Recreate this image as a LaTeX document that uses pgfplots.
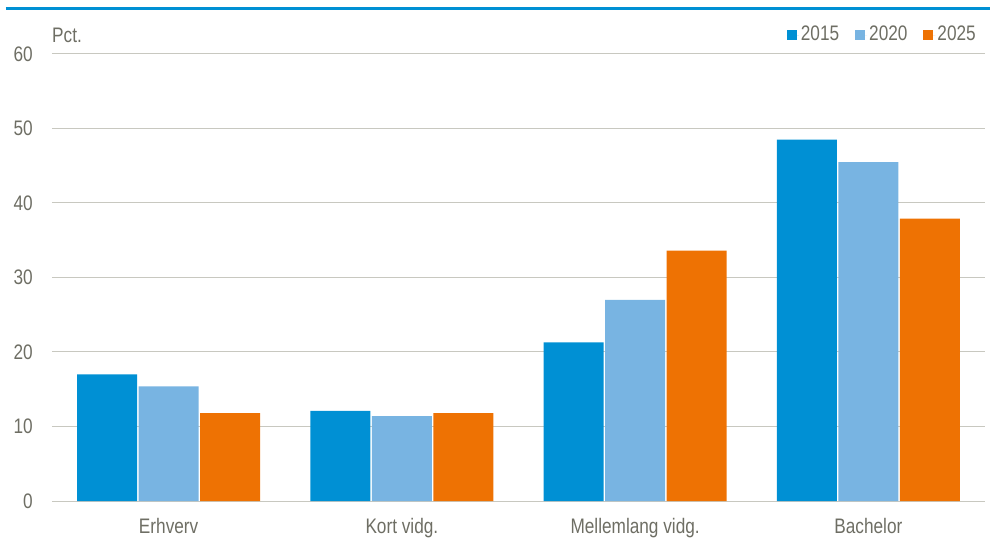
\documentclass[border=0pt]{standalone}
\usepackage{pgfplots}
\pgfplotsset{compat=1.18}
\usepackage{fontspec}
\setmainfont{Liberation Sans}[FakeStretch=0.82]
\definecolor{cA}{RGB}{0,144,212}
\definecolor{cB}{RGB}{120,180,226}
\definecolor{cC}{RGB}{238,114,3}
\definecolor{txt}{RGB}{110,110,100}
\definecolor{grd}{RGB}{200,200,192}
\begin{document}
\fontsize{21bp}{25bp}\selectfont
\begin{tikzpicture}
\begin{axis}[
    scale only axis,
    width=933bp, height=447bp,
    ybar=1.5bp, bar width=60bp,
    xmin=-0.5, xmax=3.5,
    ymin=0, ymax=60,
    xtick=data,
    xticklabels={Erhverv, Kort vidg., Mellemlang vidg., Bachelor},
    ytick={0,10,20,30,40,50,60},
    ymajorgrids=true,
    grid style={grd, line width=1bp},
    axis line style={draw=none},
    major tick length=0pt,
    tick label style={text=txt},
    /pgf/number format/assume math mode=true,
    yticklabel style={anchor=east, inner sep=0pt, xshift=-19bp},
    xticklabel style={anchor=base, inner sep=0pt, yshift=-32bp},
    legend columns=3,
    legend style={at={(axis description cs:0.9925,1.0425)}, anchor=east,
        draw=none, fill=none, inner sep=0pt, text=txt,
        nodes={inner sep=2bp},
        /tikz/every even column/.append style={column sep=14bp}},
    legend image code/.code={\fill[#1] (0bp,-5bp) rectangle (10bp,5bp);
        \path (0bp,0bp) -- (12bp,0bp);},
]
\addplot[fill=cA, draw=none] coordinates {(0,17.0) (1,12.1) (2,21.3) (3,48.5)};
\addlegendentry{2015}
\addplot[fill=cB, draw=none] coordinates {(0,15.4) (1,11.4) (2,27.0) (3,45.5)};
\addlegendentry{2020}
\addplot[fill=cC, draw=none] coordinates {(0,11.8) (1,11.8) (2,33.6) (3,37.9)};
\addlegendentry{2025}
\coordinate (O) at (rel axis cs:0,0);
\end{axis}
\pgfresetboundingbox
\useasboundingbox ([shift={(-52bp,-38bp)}]O) rectangle ++(995bp,539bp);
\draw[line width=3bp, cA] ([shift={(-46bp,492bp)}]O) -- ++(984bp,0);
\node[anchor=west, inner sep=0pt, text=txt] at ([shift={(0bp,466bp)}]O) {Pct.};
\end{tikzpicture}
\end{document}
